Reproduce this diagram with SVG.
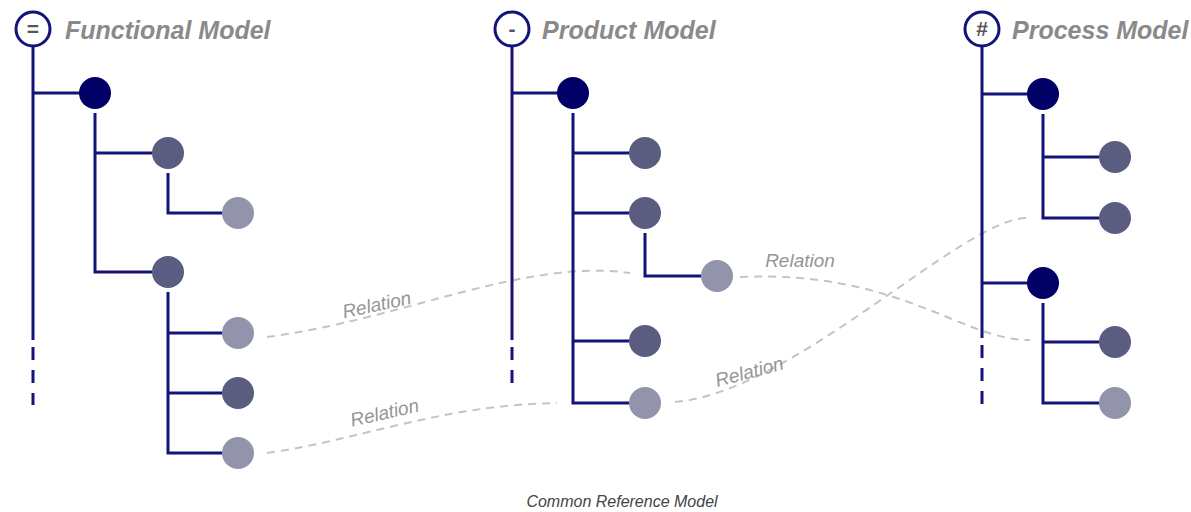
<svg xmlns="http://www.w3.org/2000/svg" width="1191" height="512" viewBox="0 0 1191 512">
<style>
.ln{stroke:#13137a;stroke-width:3;fill:none}
.dl{stroke:#13137a;stroke-width:3;fill:none;stroke-dasharray:13 10}
.hd{fill:#fff;stroke:#13137a;stroke-width:3}
.sym{font-family:"Liberation Sans",Arial,sans-serif;font-weight:bold;font-size:21px;fill:#555;text-anchor:middle}
.ttl{font-family:"Liberation Sans",Arial,sans-serif;font-weight:bold;font-style:italic;font-size:25px;fill:#8a8a8a}
.n0{fill:#000066}
.n1{fill:#5a5c80}
.n2{fill:#9294ac}
.rel{stroke:#c4c4c4;stroke-width:2;fill:none;stroke-dasharray:8 6}
.rl{font-family:"Liberation Sans",Arial,sans-serif;font-style:italic;font-size:19px;fill:#959595;text-anchor:middle}
.ft{font-family:"Liberation Sans",Arial,sans-serif;font-style:italic;font-size:16px;fill:#444;text-anchor:middle}
</style>
<g id="connectors">
<path class="rel" d="M267,337 C400,320 525,258 630,273"/>
<path class="rel" d="M267,453 C360,440 440,405 557,403"/>
<path class="rel" d="M740,277 C900,270 963,341 1030,340"/>
<path class="rel" d="M675,402 C795,392 965,216 1028,218"/>
<text class="rl" transform="translate(378,311) rotate(-12)">Relation</text>
<text class="rl" transform="translate(386,419) rotate(-13)">Relation</text>
<text class="rl" x="800" y="267">Relation</text>
<text class="rl" transform="translate(751,378) rotate(-15)">Relation</text>
</g>
<g id="functional-tree">
<line class="ln" x1="33" y1="47" x2="33" y2="340"/>
<line class="dl" x1="33" y1="347" x2="33" y2="405"/>
<line class="ln" x1="33" y1="93" x2="80" y2="93"/>
<polyline class="ln" points="95,113 95,272 152,272"/>
<line class="ln" x1="95" y1="153" x2="152" y2="153"/>
<polyline class="ln" points="168,173 168,213 222,213"/>
<polyline class="ln" points="168,292 168,453 222,453"/>
<line class="ln" x1="168" y1="333" x2="222" y2="333"/>
<line class="ln" x1="168" y1="393" x2="222" y2="393"/>
</g>
<g id="functional-header"><circle class="hd" cx="33" cy="29" r="17"/><text class="sym" x="33" y="36">=</text><text class="ttl" x="65" y="39">Functional Model</text></g>
<g id="f1"><circle class="n0" cx="95" cy="93" r="16"/></g>
<g id="f2"><circle class="n1" cx="168" cy="153" r="16"/></g>
<g id="f3"><circle class="n2" cx="238" cy="213" r="16"/></g>
<g id="f4"><circle class="n1" cx="168" cy="272" r="16"/></g>
<g id="f5"><circle class="n2" cx="238" cy="333" r="16"/></g>
<g id="f6"><circle class="n1" cx="238" cy="393" r="16"/></g>
<g id="f7"><circle class="n2" cx="238" cy="453" r="16"/></g>
<g id="product-tree">
<line class="ln" x1="512" y1="47" x2="512" y2="340"/>
<line class="dl" x1="512" y1="347" x2="512" y2="385"/>
<line class="ln" x1="512" y1="93" x2="558" y2="93"/>
<polyline class="ln" points="573,113 573,403 629,403"/>
<line class="ln" x1="573" y1="153" x2="629" y2="153"/>
<line class="ln" x1="573" y1="213" x2="629" y2="213"/>
<line class="ln" x1="573" y1="341" x2="629" y2="341"/>
<polyline class="ln" points="645,233 645,276 701,276"/>
</g>
<g id="product-header"><circle class="hd" cx="512" cy="29" r="17"/><text class="sym" x="512" y="36">-</text><text class="ttl" x="542" y="39">Product Model</text></g>
<g id="p1"><circle class="n0" cx="573" cy="93" r="16"/></g>
<g id="p2"><circle class="n1" cx="645" cy="153" r="16"/></g>
<g id="p3"><circle class="n1" cx="645" cy="213" r="16"/></g>
<g id="p4"><circle class="n2" cx="717" cy="276" r="16"/></g>
<g id="p5"><circle class="n1" cx="645" cy="341" r="16"/></g>
<g id="p6"><circle class="n2" cx="645" cy="403" r="16"/></g>
<g id="process-tree">
<line class="ln" x1="982" y1="47" x2="982" y2="338"/>
<line class="dl" x1="982" y1="345" x2="982" y2="405"/>
<line class="ln" x1="982" y1="94" x2="1027" y2="94"/>
<line class="ln" x1="982" y1="283" x2="1027" y2="283"/>
<polyline class="ln" points="1043,114 1043,218 1099,218"/>
<line class="ln" x1="1043" y1="157" x2="1099" y2="157"/>
<polyline class="ln" points="1043,303 1043,403 1099,403"/>
<line class="ln" x1="1043" y1="342" x2="1099" y2="342"/>
</g>
<g id="process-header"><circle class="hd" cx="982" cy="29" r="17"/><text class="sym" x="982" y="36">#</text><text class="ttl" x="1012" y="39">Process Model</text></g>
<g id="r1"><circle class="n0" cx="1043" cy="94" r="16"/></g>
<g id="r2"><circle class="n1" cx="1115" cy="157" r="16"/></g>
<g id="r3"><circle class="n1" cx="1115" cy="218" r="16"/></g>
<g id="r4"><circle class="n0" cx="1043" cy="283" r="16"/></g>
<g id="r5"><circle class="n1" cx="1115" cy="342" r="16"/></g>
<g id="r6"><circle class="n2" cx="1115" cy="403" r="16"/></g>
<text class="ft" x="622" y="507">Common Reference Model</text>
</svg>
